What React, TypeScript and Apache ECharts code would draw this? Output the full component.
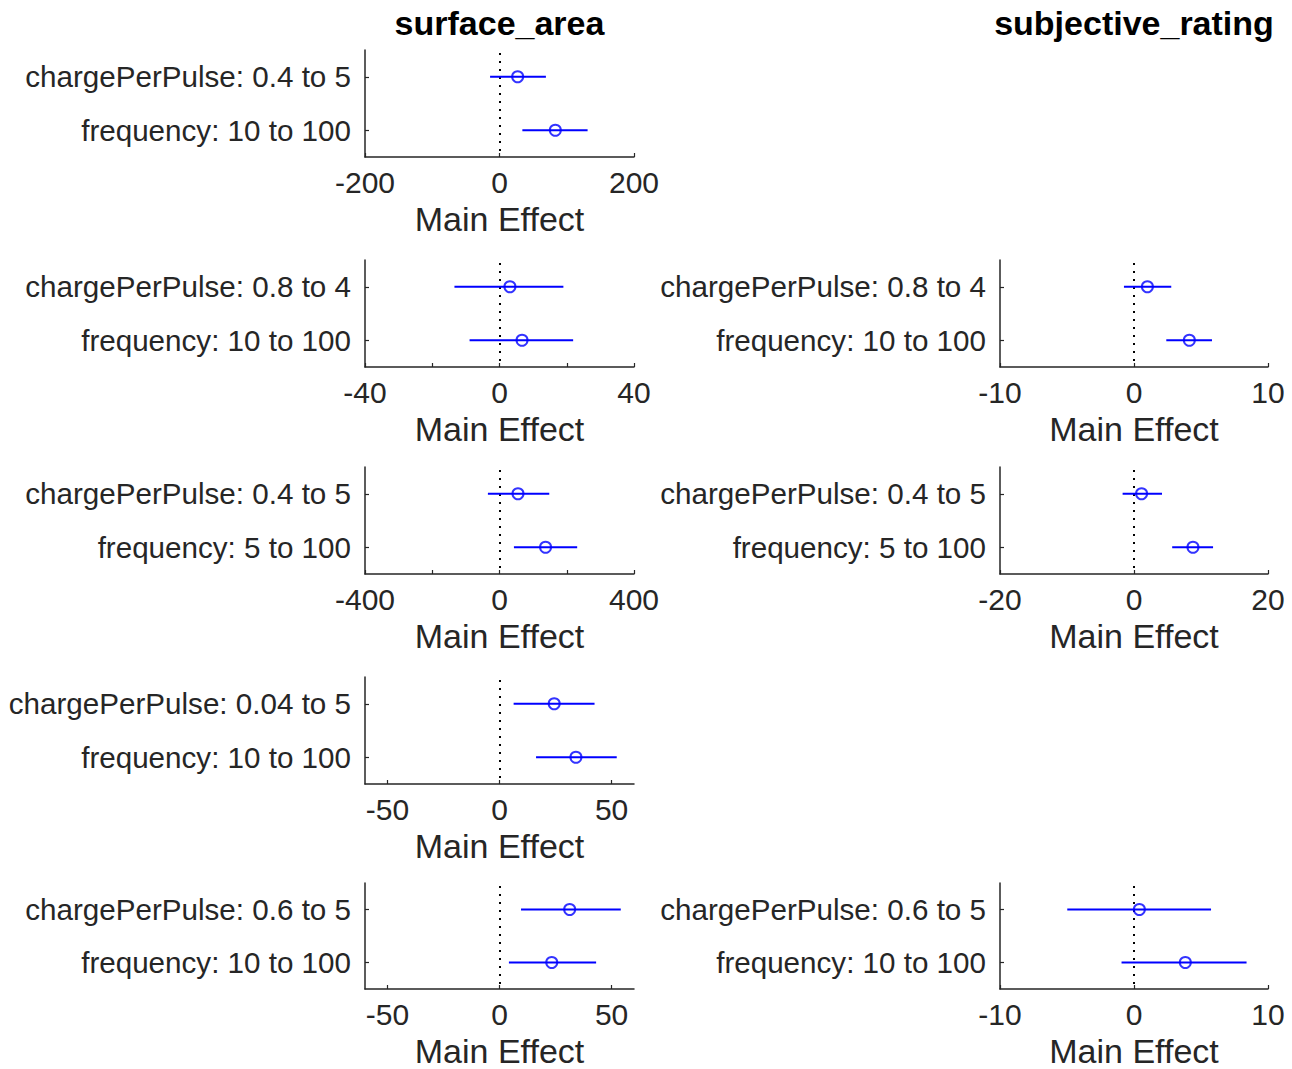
import React, { useEffect, useRef } from "react";
import * as echarts from "echarts";

const columnTitles = ["surface_area", "subjective_rating"];
const rowLabels = [
  ["chargePerPulse: 0.4 to 5", "frequency: 10 to 100"],
  ["chargePerPulse: 0.8 to 4", "frequency: 10 to 100"],
  ["chargePerPulse: 0.4 to 5", "frequency: 5 to 100"],
  ["chargePerPulse: 0.04 to 5", "frequency: 10 to 100"],
  ["chargePerPulse: 0.6 to 5", "frequency: 10 to 100"],
];

const surfaceEffect = [[27, 83], [3.1, 6.7], [55, 137], [24.4, 34.1], [31.3, 23.3]];
const surfaceLow = [[-14, 34], [-13.4, -8.9], [-34.5, 42.9], [6.3, 16.3], [9.6, 4.2]];
const surfaceHigh = [[69, 131], [19, 21.9], [148, 231], [42.4, 52.3], [54.1, 43.1]];
const surfaceLimits = [[-200, 200], [-40, 40], [-400, 400], [-60, 60], [-60, 60]];
const surfaceTicks = [[-200, 0, 200], [-40, -20, 0, 20, 40], [-400, -200, 0, 200, 400], [-50, 0, 50], [-50, 0, 50]];
const surfaceTickLabels = [[-200, 0, 200], [-40, 0, 40], [-400, 0, 400], [-50, 0, 50], [-50, 0, 50]];

const ratingEffect = [null, [1.0, 4.13], [1.13, 8.8], null, [0.4, 3.83]];
const ratingLow = [null, [-0.75, 2.41], [-1.7, 5.7], null, [-4.98, -0.93]];
const ratingHigh = [null, [2.78, 5.82], [4.18, 11.8], null, [5.75, 8.4]];
const ratingLimits = [null, [-10, 10], [-20, 20], null, [-10, 10]];
const ratingTicks = [null, [-10, 0, 10], [-20, 0, 20], null, [-10, 0, 10]];
const ratingTickLabels = [null, [-10, 0, 10], [-20, 0, 20], null, [-10, 0, 10]];

const FONT = "Liberation Sans, Arial, Helvetica, sans-serif";
const AXIS_COLOR = "#262626";
const BLUE = "#0000ff";

const rowTops = [50, 260, 467, 677, 883];
const rowHeight = 107;
const colLefts = [365, 1000];
const colWidths = [269, 268];

function buildOption() {
  const grids: any[] = [];
  const xAxes: any[] = [];
  const yAxes: any[] = [];
  const series: any[] = [];
  const graphics: any[] = [];

  const panels: any[] = [];
  for (let r = 0; r < 5; r++) {
    panels.push({
      col: 0, row: r, eff: surfaceEffect[r], low: surfaceLow[r], high: surfaceHigh[r],
      lim: surfaceLimits[r], ticks: surfaceTicks[r], labels: surfaceTickLabels[r],
    });
  }
  for (let r = 0; r < 5; r++) {
    if (!ratingEffect[r]) continue;
    panels.push({
      col: 1, row: r, eff: ratingEffect[r], low: ratingLow[r], high: ratingHigh[r],
      lim: ratingLimits[r], ticks: ratingTicks[r], labels: ratingTickLabels[r],
    });
  }

  panels.forEach((p, i) => {
    grids.push({
      left: colLefts[p.col],
      width: colWidths[p.col],
      top: rowTops[p.row],
      height: rowHeight,
      containLabel: false,
    });
    xAxes.push({
      type: "value",
      gridIndex: i,
      min: p.lim[0],
      max: p.lim[1],
      name: "Main Effect",
      nameLocation: "middle",
      nameGap: 45,
      nameTextStyle: { fontSize: 34, color: AXIS_COLOR, fontFamily: FONT },
      axisLine: { show: true, onZero: false, lineStyle: { color: AXIS_COLOR, width: 1.5 } },
      axisTick: { show: true, inside: true, length: 4, customValues: p.ticks, lineStyle: { color: AXIS_COLOR, width: 1.2 } },
      axisLabel: {
        show: true, customValues: p.labels, fontSize: 30, color: AXIS_COLOR, fontFamily: FONT, margin: 10,
        showMinLabel: true, showMaxLabel: true, hideOverlap: false,
      },
      splitLine: { show: false },
    });
    yAxes.push({
      type: "category",
      gridIndex: i,
      inverse: true,
      data: rowLabels[p.row],
      axisLine: { show: true, onZero: false, lineStyle: { color: AXIS_COLOR, width: 1.5 } },
      axisTick: { show: true, inside: true, alignWithLabel: true, length: 4, lineStyle: { color: AXIS_COLOR, width: 1.2 } },
      axisLabel: { interval: 0, fontSize: 29.6, color: AXIS_COLOR, fontFamily: FONT, margin: 14 },
      splitLine: { show: false },
    });
    // dotted zero reference line
    series.push({
      type: "custom",
      xAxisIndex: i,
      yAxisIndex: i,
      silent: true,
      data: [[0, 0]],
      encode: { x: 0, y: 1 },
      renderItem: (params: any, api: any) => {
        const cs = params.coordSys;
        const x = Math.round(api.coord([api.value(0), 0])[0]);
        return {
          type: "line",
          shape: { x1: x, y1: cs.y + 3, x2: x, y2: cs.y + cs.height },
          style: { stroke: "#000", lineWidth: 2, lineDash: [2, 6] },
        };
      },
      z: 2,
    });
    const barData = p.eff.map((_: number, k: number) => [p.low[k], p.high[k], k]);
    series.push({
      type: "custom",
      xAxisIndex: i,
      yAxisIndex: i,
      silent: true,
      data: barData,
      encode: { x: [0, 1], y: 2 },
      renderItem: (params: any, api: any) => {
        const a = api.coord([api.value(0), api.value(2)]);
        const b = api.coord([api.value(1), api.value(2)]);
        return {
          type: "line",
          shape: { x1: a[0], y1: a[1], x2: b[0], y2: b[1] },
          style: { stroke: BLUE, lineWidth: 1.9 },
        };
      },
      z: 3,
    });
    series.push({
      type: "scatter",
      xAxisIndex: i,
      yAxisIndex: i,
      silent: true,
      data: p.eff.map((v: number, k: number) => [v, k]),
      symbol: "circle",
      symbolSize: 11,
      itemStyle: { color: "rgba(0,0,0,0)", borderColor: BLUE, borderWidth: 2 },
      z: 4,
    });
  });

  columnTitles.forEach((t, c) => {
    graphics.push({
      type: "text",
      x: colLefts[c] + colWidths[c] / 2,
      y: 23,
      style: {
        text: t,
        fontSize: 34,
        fontWeight: "bold",
        fontFamily: FONT,
        fill: "#000",
        align: "center",
        verticalAlign: "middle",
      },
    });
  });

  return {
    animation: false,
    backgroundColor: "#ffffff",
    grid: grids,
    xAxis: xAxes,
    yAxis: yAxes,
    series,
    graphic: graphics,
  };
}

export default function App() {
  const ref = useRef<HTMLDivElement>(null);
  useEffect(() => {
    if (!ref.current) return;
    const chart = echarts.init(ref.current, undefined, { renderer: "svg" });
    chart.setOption(buildOption() as any);
    return () => chart.dispose();
  }, []);
  return (
    <div
      ref={ref}
      style={{ position: "fixed", left: 0, top: 0, width: 1292, height: 1069, background: "#fff" }}
    />
  );
}
